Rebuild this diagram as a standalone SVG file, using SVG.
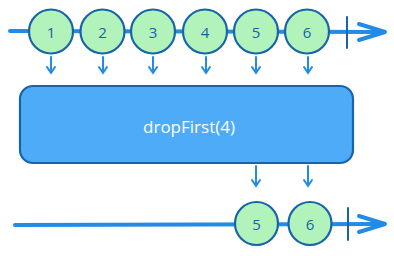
<svg xmlns="http://www.w3.org/2000/svg" width="394" height="256" viewBox="0 0 394 256">
<style>
.line{stroke:#228be6;stroke-width:4;stroke-linecap:round;fill:none}
.ah{stroke:#228be6;stroke-width:4;stroke-linecap:round;stroke-linejoin:round;fill:none}
.tick{stroke:#1864ab;stroke-width:2;stroke-linecap:round}
.da{stroke:#228be6;stroke-width:2;stroke-linecap:round;fill:none}
.c{fill:#b2f2bb;stroke:#1864ab;stroke-width:2.2}
.t{font-family:"Open Sans","DejaVu Sans",sans-serif;font-size:15px;fill:#1864ab;text-anchor:middle;dominant-baseline:central}
.box{fill:#4dabf7;stroke:#1864ab;stroke-width:2.2}
.bt{font-family:"Open Sans","DejaVu Sans",sans-serif;font-size:17px;fill:#ffffff;text-anchor:middle;dominant-baseline:central}
</style>
<g id="connectors">
<line class="line" x1="10" y1="31" x2="384" y2="32"/>
<polyline class="ah" points="359,24 385,32 359,40"/>
<line class="tick" x1="347" y1="17" x2="347" y2="48"/>
<line class="line" x1="15" y1="225" x2="384" y2="224"/>
<polyline class="ah" points="359,216 385,224 359,232"/>
<line class="tick" x1="348" y1="208" x2="348" y2="240"/>
<g>
<path class="da" d="M51,57 V73 M47,67 L51,73 L55,67"/>
<path class="da" d="M103,57 V73 M99,67 L103,73 L107,67"/>
<path class="da" d="M153,57 V73 M149,67 L153,73 L157,67"/>
<path class="da" d="M206,57 V73 M202,67 L206,73 L210,67"/>
<path class="da" d="M256,57 V73 M252,67 L256,73 L260,67"/>
<path class="da" d="M308,57 V73 M304,67 L308,73 L312,67"/>
<path class="da" d="M256,166 V186 M252,180 L256,186 L260,180"/>
<path class="da" d="M308,166 V186 M304,180 L308,186 L312,180"/>
</g>
</g>
<g id="n1"><circle class="c" cx="51" cy="31.5" r="22"/><text class="t" x="51" y="31.5">1</text></g>
<g id="n2"><circle class="c" cx="102.5" cy="31.5" r="22"/><text class="t" x="102.5" y="31.5">2</text></g>
<g id="n3"><circle class="c" cx="153" cy="31.5" r="22"/><text class="t" x="153" y="31.5">3</text></g>
<g id="n4"><circle class="c" cx="205" cy="31.5" r="22"/><text class="t" x="205" y="31.5">4</text></g>
<g id="n5"><circle class="c" cx="256" cy="31.5" r="22"/><text class="t" x="256" y="31.5">5</text></g>
<g id="n6"><circle class="c" cx="307" cy="31.5" r="22"/><text class="t" x="307" y="31.5">6</text></g>
<g id="op"><rect class="box" x="20" y="86" width="333" height="77" rx="13"/><text class="bt" x="189" y="126">dropFirst(4)</text></g>
<g id="o5"><circle class="c" cx="256.5" cy="223.5" r="21.5"/><text class="t" x="256.5" y="223.5">5</text></g>
<g id="o6"><circle class="c" cx="310" cy="223.5" r="21.5"/><text class="t" x="310" y="223.5">6</text></g>
</svg>
